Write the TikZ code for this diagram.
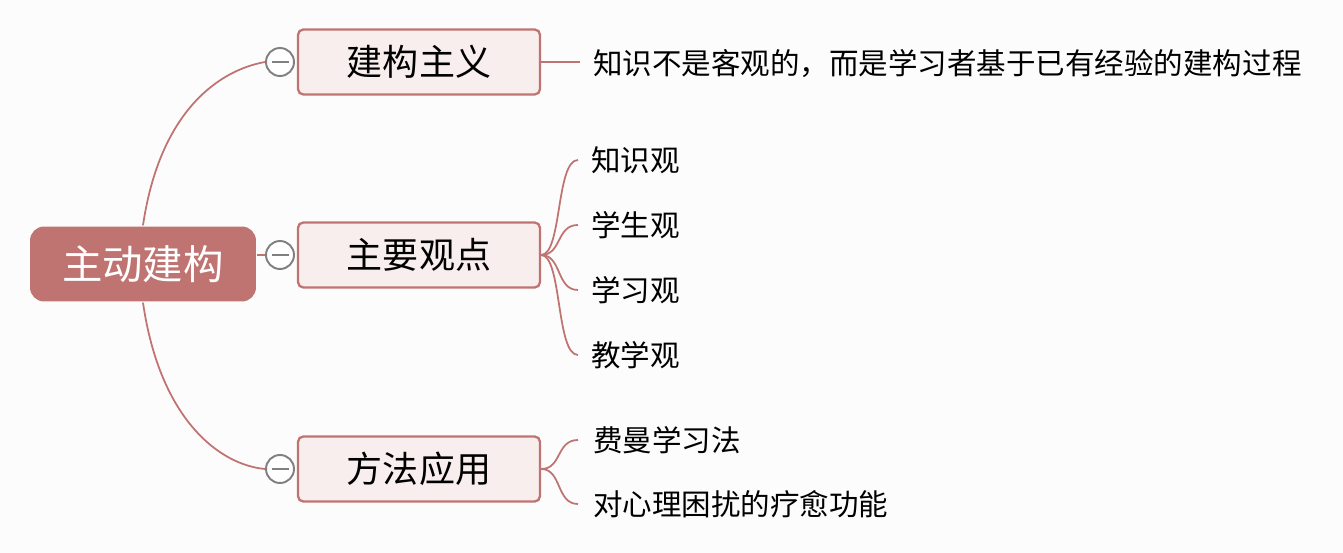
\documentclass[tikz,border=0pt]{standalone}
\usepackage{fontspec}
\setmainfont{Noto Sans CJK SC}
\definecolor{rootred}{RGB}{192,116,114}
\definecolor{branchpink}{RGB}{248,238,238}
\definecolor{bggray}{RGB}{252,252,252}
\usetikzlibrary{positioning}
\tikzset{
x=0.02cm, y=-0.02cm, % one unit is one pixel of the reference
every path/.style={line width=1.3pt},
root/.style={rounded corners=8pt, fill=rootred, text=white, minimum width=4.52cm, minimum height=1.5cm, font=\fontsize{23}{27}\selectfont},
branch/.style={rounded corners=3pt, draw=rootred, fill=branchpink, minimum width=4.84cm, minimum height=1.3cm, font=\fontsize{20.5}{24}\selectfont},
leaf/.style={anchor=west, inner sep=0pt, font=\fontsize{16.8}{20}\selectfont},
fold/.style={circle, draw=gray, fill=white, minimum size=0.56cm, inner sep=0pt, line width=1.1pt},
link/.style={draw=rootred, line width=1pt},
}
\begin{document}
\begin{tikzpicture}
  \fill[bggray] (0,0) rectangle (1343,553);
  \node[root] (zd) at (143,264) {主动建构};
  \node[branch] (jg) at (419,62) {建构主义};
  \node[branch] (gd) at (419,255) {主要观点};
  \node[branch] (ff) at (419,469) {方法应用};
  \node[fold] (c1) at (280,62) {};
  \node[fold] (c2) at (280,255) {};
  \node[fold] (c3) at (280,469) {};
  \foreach \c in {c1,c2,c3}
    \draw[gray, line width=1.1pt] ([xshift=-0.17cm]\c.center) -- ([xshift=0.17cm]\c.center);

  \node[leaf] (l1) at (592,64) {知识不是客观的，而是学习者基于已有经验的建构过程};
  \node[leaf] (p1) at (590,160) {知识观};
  \node[leaf] (p2) at (590,225) {学生观};
  \node[leaf] (p3) at (590,290) {学习观};
  \node[leaf] (p4) at (590,355) {教学观};
  \node[leaf] (m1) at (592,440) {费曼学习法};
  \node[leaf] (m2) at (592,504) {对心理困扰的疗愈功能};
  \coordinate (q1) at (578,160);
  \coordinate (q2) at (578,225);
  \coordinate (q3) at (578,290);
  \coordinate (q4) at (578,355);
  \coordinate (r1) at (578,440);
  \coordinate (r2) at (578,504);

  % root to branches
  \draw[link] (zd.north) .. controls (160,110) and (220,70) .. (c1.west);
  \draw[link] (zd.east |- c2) -- (c2.west);
  \draw[link] (zd.south) .. controls (160,420) and (220,465) .. (c3.west);

  % branches to leaves
  \draw[link] (jg.east) -- (580,62);
  \foreach \y/\q in {160/q1,225/q2,290/q3,355/q4}
    \draw[link] (gd.east) .. controls (562,255) and (556,\y) .. (\q);
  \foreach \y/\r in {440/r1,504/r2}
    \draw[link] (ff.east) .. controls (562,469) and (556,\y) .. (\r);
\end{tikzpicture}
\end{document}
